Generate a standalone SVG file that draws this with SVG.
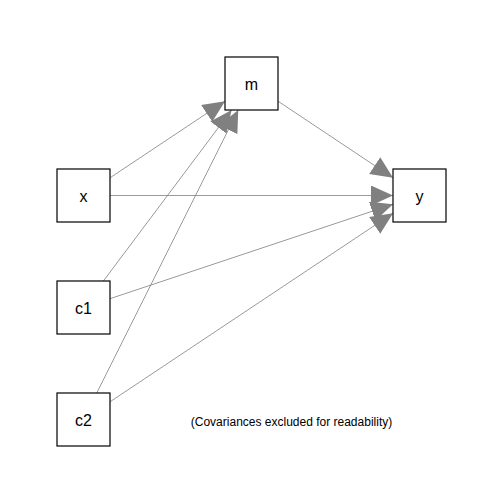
<svg xmlns="http://www.w3.org/2000/svg" width="504" height="504" viewBox="0 0 504 504">
  <style>
    .edge { stroke: #808080; stroke-width: 0.8; fill: none; marker-end: url(#arr); }
    .box { fill: #ffffff; stroke: #000000; stroke-width: 1.2; }
    .lbl { font-family: "Liberation Sans", Arial, sans-serif; font-size: 16px; fill: #000000; text-anchor: middle; }
    .note { font-family: "Liberation Sans", Arial, sans-serif; font-size: 12px; fill: #000000; text-anchor: middle; }
  </style>
  <defs>
    <marker id="arr" markerUnits="userSpaceOnUse" markerWidth="22" markerHeight="20" refX="22" refY="10" orient="auto" viewBox="0 0 22 20">
      <path d="M0,0 L22,10 L0,20 Z" fill="#808080"/>
    </marker>
  </defs>
  <rect width="504" height="504" fill="#ffffff"/>
  <g id="edges">
    <line class="edge" x1="110" y1="177.8" x2="225" y2="101.2"/>
    <line class="edge" x1="110" y1="195.5" x2="393" y2="195.5"/>
    <line class="edge" x1="103.4" y1="281" x2="231.6" y2="110"/>
    <line class="edge" x1="110" y1="298.7" x2="393" y2="204.3"/>
    <line class="edge" x1="96.75" y1="393" x2="238.25" y2="110"/>
    <line class="edge" x1="110" y1="401.8" x2="393" y2="213.2"/>
    <line class="edge" x1="278" y1="101.2" x2="393" y2="177.8"/>
  </g>
  <g id="node-m">
    <rect class="box" x="225" y="57" width="53" height="53"/>
    <text class="lbl" x="251.5" y="90">m</text>
  </g>
  <g id="node-x">
    <rect class="box" x="57" y="169" width="53" height="53"/>
    <text class="lbl" x="83.5" y="202">x</text>
  </g>
  <g id="node-y">
    <rect class="box" x="393" y="169" width="53" height="53"/>
    <text class="lbl" x="419.5" y="202">y</text>
  </g>
  <g id="node-c1">
    <rect class="box" x="57" y="281" width="53" height="53"/>
    <text class="lbl" x="83.5" y="314">c1</text>
  </g>
  <g id="node-c2">
    <rect class="box" x="57" y="393" width="53" height="53"/>
    <text class="lbl" x="83.5" y="426">c2</text>
  </g>
  <text class="note" x="291.5" y="426">(Covariances excluded for readability)</text>
</svg>
